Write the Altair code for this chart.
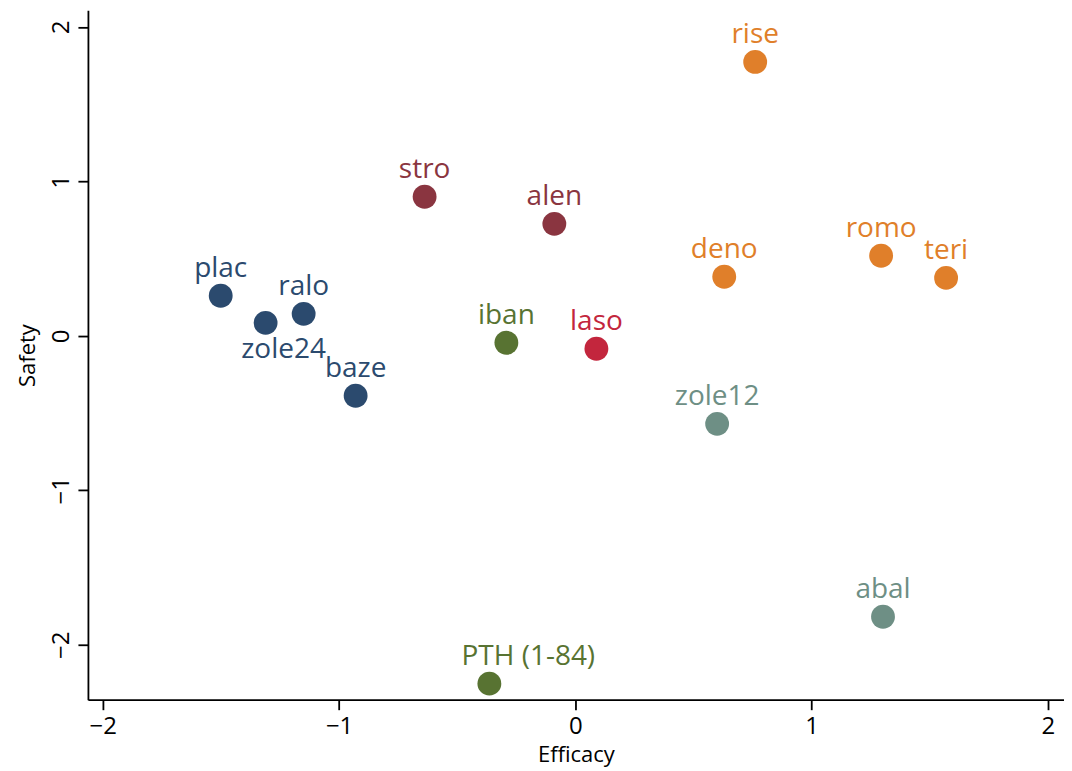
import altair as alt
import pandas as pd

names = ["rise", "stro", "alen", "deno", "romo", "teri", "plac", "ralo", "zole24",
         "iban", "laso", "baze", "zole12", "abal", "PTH (1-84)"]
efficacy = [0.761, -0.638, -0.089, 0.630, 1.294, 1.569, -1.501, -1.150, -1.311,
            -0.292, 0.089, -0.930, 0.600, 1.302, -0.364]
safety = [1.773, 0.900, 0.725, 0.382, 0.518, 0.375, 0.259, 0.142, 0.084,
          -0.045, -0.084, -0.388, -0.570, -1.819, -2.252]
groups = ["orange", "darkred", "darkred", "orange", "orange", "orange", "navy", "navy", "navy",
          "green", "red", "navy", "teal", "teal", "green"]

group_domain = ["navy", "darkred", "orange", "green", "red", "teal"]
group_range = ["#2b4a6e", "#8a3540", "#e07f2a", "#587332", "#c3263d", "#6e8f85"]

df = pd.DataFrame({"name": names, "Efficacy": efficacy, "Safety": safety, "group": groups})

FONT = "Open Sans"
LABEL = 28

xs = alt.X("Efficacy:Q",
           scale=alt.Scale(domain=[-2.063, 2.068], nice=False, zero=False),
           axis=alt.Axis(values=[-2, -1, 0, 1, 2], format="d", title="Efficacy", grid=False,
                         domainColor="black", domainWidth=1.8, tickColor="black", tickWidth=1.8,
                         tickSize=10, labelFontSize=24, labelColor="black", labelFont=FONT,
                         titleFont=FONT, titleFontSize=22, titleFontWeight="normal",
                         titleColor="black", labelPadding=5, titlePadding=6, labelFlush=False))
ys = alt.Y("Safety:Q",
           scale=alt.Scale(domain=[-2.356, 2.107], nice=False, zero=False),
           axis=alt.Axis(values=[-2, -1, 0, 1, 2], format="d", title="Safety", grid=False,
                         domainColor="black", domainWidth=1.8, tickColor="black", tickWidth=1.8,
                         tickSize=10, labelFontSize=24, labelColor="black", labelFont=FONT,
                         labelAngle=270, labelAlign="center", labelBaseline="bottom",
                         titleFont=FONT, titleFontSize=22, titleFontWeight="normal",
                         titleColor="black", labelPadding=4, titlePadding=10, labelFlush=False))
color = alt.Color("group:N", scale=alt.Scale(domain=group_domain, range=group_range), legend=None)

base = alt.Chart(df)

points = base.mark_circle(size=570, opacity=1).encode(x=xs, y=ys, color=color)

above = base.transform_filter(
    "datum.name != 'zole24' && datum.name != 'PTH (1-84)'"
).mark_text(fontSize=LABEL, font=FONT, align="center", baseline="alphabetic", dy=-19).encode(
    x="Efficacy:Q", y="Safety:Q", text="name:N", color=color)

below = base.transform_filter("datum.name == 'zole24'").mark_text(
    fontSize=LABEL, font=FONT, align="center", baseline="top", dy=13, dx=18).encode(
    x="Efficacy:Q", y="Safety:Q", text="name:N", color=color)

pth = base.transform_filter("datum.name == 'PTH (1-84)'").mark_text(
    fontSize=LABEL, font=FONT, align="center", baseline="alphabetic", dy=-19, dx=39).encode(
    x="Efficacy:Q", y="Safety:Q", text="name:N", color=color)

chart = alt.layer(points, above, below, pth).properties(
    width=977, height=690,
    autosize=alt.AutoSizeParams(type="none"),
    padding={"left": 80, "top": 2, "right": 0, "bottom": 70},
).configure(background="white").configure_view(strokeWidth=0, stroke="transparent")

chart.save("out.html", embed_options={"renderer": "svg", "actions": False})
